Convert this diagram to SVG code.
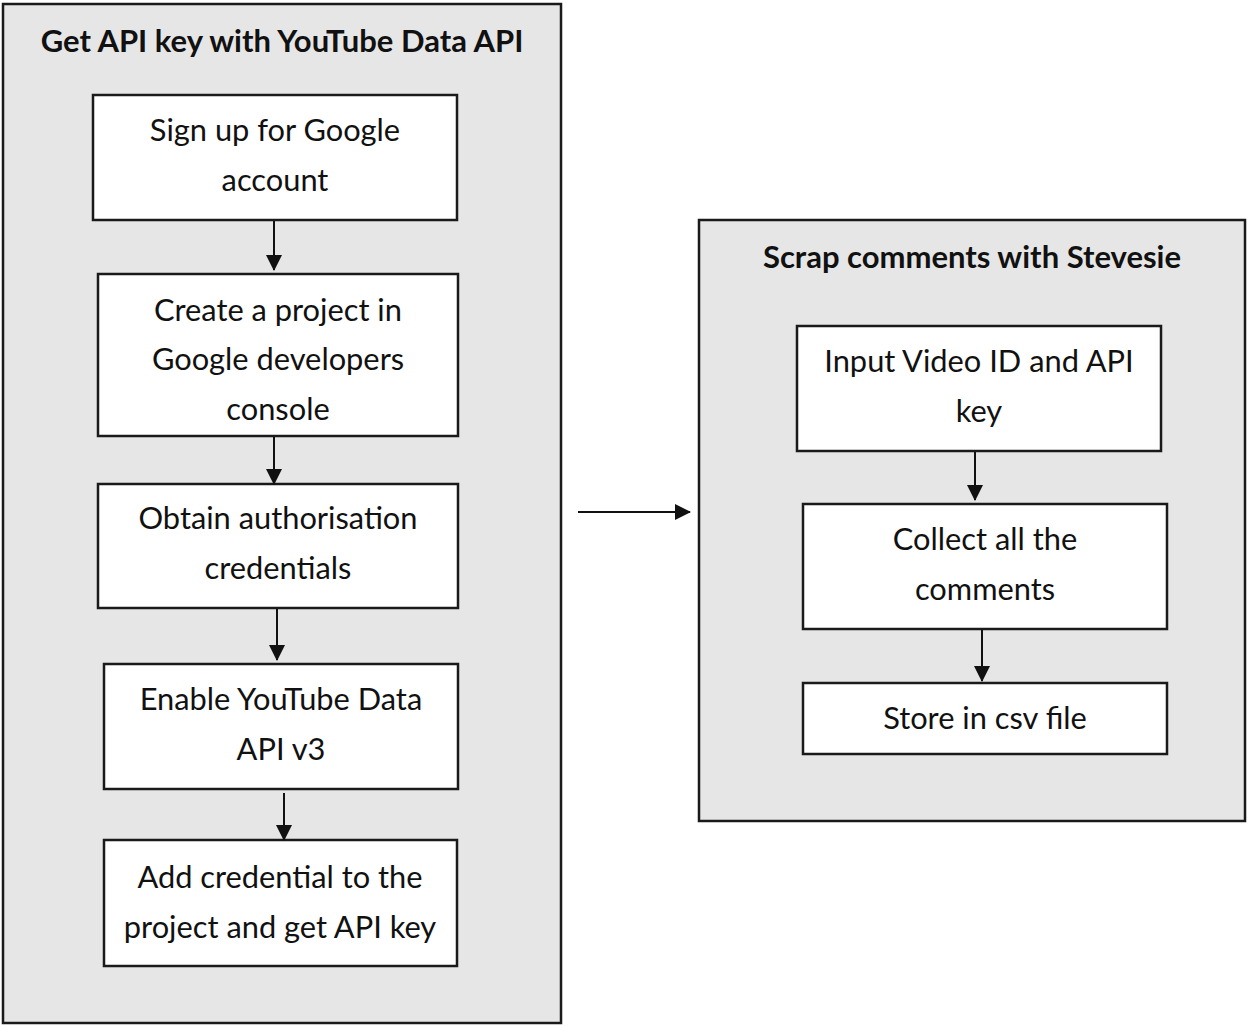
<svg xmlns="http://www.w3.org/2000/svg" width="1250" height="1027" viewBox="0 0 1250 1027">
<style>
.cont{fill:#e6e6e6;stroke:#1a1a1a;stroke-width:2.5}
.box{fill:#fff;stroke:#1a1a1a;stroke-width:2.5}
.t{font-family:Lato,"Open Sans",sans-serif;font-size:30.8px;fill:#111;text-anchor:middle}
.h{font-family:Lato,"Open Sans",sans-serif;font-size:31px;font-weight:bold;fill:#111;text-anchor:middle}
.c{stroke:#111;stroke-width:2;fill:none;marker-end:url(#ah)}
</style>
<defs>
<marker id="ah" markerWidth="16" markerHeight="16" refX="15" refY="8" orient="auto" markerUnits="userSpaceOnUse" viewBox="0 0 16 16">
<path d="M0,0 L16,8 L0,16 Z" fill="#111"/>
</marker>
</defs>
<rect width="1250" height="1027" fill="#fff"/>
<g id="left-group">
<rect class="cont" x="3" y="4" width="558" height="1019"/>
<text class="h" x="282" y="52">Get API key with YouTube Data API</text>
</g>
<g id="right-group">
<rect class="cont" x="699" y="220" width="546" height="601"/>
<text class="h" x="972" y="268">Scrap comments with Stevesie</text>
</g>
<g id="n1"><rect class="box" x="93" y="95" width="364" height="125"/>
<text class="t" x="275" y="141">Sign up for Google</text><text class="t" x="275" y="191">account</text></g>
<g id="n2"><rect class="box" x="98" y="274" width="360" height="162"/>
<text class="t" x="278" y="321">Create a project in</text><text class="t" x="278" y="370">Google developers</text><text class="t" x="278" y="420">console</text></g>
<g id="n3"><rect class="box" x="98" y="484" width="360" height="124"/>
<text class="t" x="278" y="529">Obtain authorisation</text><text class="t" x="278" y="579">credentials</text></g>
<g id="n4"><rect class="box" x="104" y="664" width="354" height="125"/>
<text class="t" x="281" y="710">Enable YouTube Data</text><text class="t" x="281" y="760">API v3</text></g>
<g id="n5"><rect class="box" x="104" y="840" width="353" height="126"/>
<text class="t" x="280" y="888">Add credential to the</text><text class="t" x="280" y="938">project and get API key</text></g>
<g id="m1"><rect class="box" x="797" y="326" width="364" height="125"/>
<text class="t" x="979" y="372">Input Video ID and API</text><text class="t" x="979" y="422">key</text></g>
<g id="m2"><rect class="box" x="803" y="504" width="364" height="125"/>
<text class="t" x="985" y="550">Collect all the</text><text class="t" x="985" y="600">comments</text></g>
<g id="m3"><rect class="box" x="803" y="683" width="364" height="71"/>
<text class="t" x="985" y="729">Store in csv file</text></g>
<g id="connectors">
<line class="c" x1="274" y1="221" x2="274" y2="270"/>
<line class="c" x1="274" y1="437" x2="274" y2="484"/>
<line class="c" x1="277" y1="609" x2="277" y2="660"/>
<line class="c" x1="284" y1="793" x2="284" y2="840"/>
<line class="c" x1="975" y1="452" x2="975" y2="500"/>
<line class="c" x1="982" y1="630" x2="982" y2="681"/>
<line class="c" x1="578" y1="512" x2="690" y2="512"/>
</g>
</svg>
